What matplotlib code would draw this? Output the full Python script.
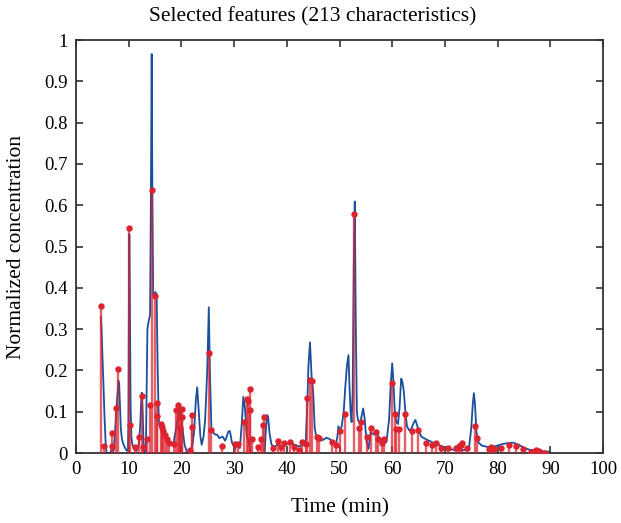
import matplotlib
matplotlib.use("Agg")
import matplotlib.pyplot as plt
from matplotlib.ticker import FuncFormatter

# Chromatogram (blue line): time (min) and normalized concentration
line_t = [4.7, 4.85, 5.0, 5.2, 5.4, 5.6, 5.8, 6.5, 6.7, 6.9, 7.2, 7.35, 7.55, 7.8, 8.05, 8.2, 8.35, 8.5, 8.7, 8.9, 9.2, 9.6, 9.85,
          9.95, 10.05, 10.12, 10.2, 10.35, 10.5, 10.7, 11.0, 11.5, 11.9, 12.2, 12.35, 12.5, 12.65, 12.8, 12.95, 13.25,
          13.4, 13.55, 13.8, 14.05, 14.2, 14.36, 14.5, 14.65, 14.9, 15.05, 15.3, 15.5, 15.7, 16.0, 16.5, 17.0, 17.5,
          18.0, 18.5, 19.0, 19.5, 19.8, 20.2, 20.6, 21.1, 21.6, 22.0, 22.4, 22.75, 23.0, 23.3, 23.6, 23.85, 24.2, 24.5,
          24.9, 25.2, 25.4, 25.7, 26.0, 26.4, 26.8, 27.2, 27.8, 28.3, 28.6, 28.9, 29.2, 29.6, 30.2, 30.6, 31.1, 31.5,
          31.75, 32.05, 32.4, 32.7, 33.0, 33.2, 35.8, 36.0, 36.25, 36.45, 36.7, 37.1, 37.7, 38.4, 39.0, 39.7, 40.6,
          41.5, 42.4, 43.2, 43.6, 43.9, 44.1, 44.4, 44.7, 45.0, 45.3, 45.6, 46.3, 46.9, 47.5, 48.1, 48.7, 49.3, 49.6,
          49.8, 50.1, 50.4, 50.8, 51.1, 51.4, 51.7, 51.9, 52.1, 52.3, 52.5, 52.7, 52.9, 53.1, 53.3, 53.5, 53.9, 54.2,
          54.5, 54.8, 55.1, 55.5, 55.9, 56.5, 57.1, 57.7, 58.3, 58.9, 59.4, 59.7, 60.0, 60.2, 60.5, 60.8, 61.1, 61.4,
          61.7, 61.9, 62.2, 62.5, 62.8, 63.2, 63.6, 64.1, 64.4, 64.9, 65.5, 66.6, 67.8, 69.1, 70.3, 72.0, 74.0, 74.6,
          75.0, 75.3, 75.5, 75.7, 76.0, 76.4, 77.0, 78.0, 79.0, 80.0, 81.0, 82.0, 83.0, 84.0, 85.0, 86.0, 87.0, 88.0,
          89.0, 89.9]
line_v = [0.33, 0.30, 0.24, 0.17, 0.09, 0.03, 0.0, 0.0, 0.008, 0.0, 0.01, 0.04, 0.08, 0.13, 0.175, 0.165, 0.11, 0.06, 0.035, 0.025, 0.015, 0.006, 0.005,
          0.08, 0.40, 0.53, 0.42, 0.12, 0.04, 0.02, 0.01, 0.005, 0.02, 0.07, 0.12, 0.146, 0.10, 0.03, 0.0, 0.0,
          0.15, 0.30, 0.32, 0.335, 0.60, 0.966, 0.60, 0.38, 0.38, 0.39, 0.385, 0.20, 0.08, 0.06, 0.05, 0.04, 0.03,
          0.02, 0.025, 0.06, 0.10, 0.105, 0.06, 0.02, 0.0, 0.0, 0.01, 0.05, 0.13, 0.159, 0.10, 0.04, 0.02, 0.04, 0.08,
          0.20, 0.353, 0.20, 0.056, 0.05, 0.045, 0.044, 0.036, 0.04, 0.03, 0.04, 0.052, 0.053, 0.025, 0.01, 0.025, 0.012, 0.08,
          0.136, 0.11, 0.04, 0.03, 0.012, 0.0, 0.0, 0.05, 0.092, 0.088, 0.05, 0.02, 0.015, 0.022, 0.015, 0.02, 0.025,
          0.02, 0.016, 0.02, 0.03, 0.12, 0.21, 0.268, 0.186, 0.15, 0.06, 0.04, 0.03, 0.032, 0.037, 0.034, 0.028, 0.02, 0.04,
          0.065, 0.052, 0.064, 0.10, 0.16, 0.21, 0.237, 0.16, 0.10, 0.075, 0.15, 0.45, 0.609, 0.30, 0.10, 0.08, 0.07, 0.09,
          0.108, 0.08, 0.03, 0.01, 0.05, 0.045, 0.045, 0.035, 0.03, 0.026, 0.08, 0.16, 0.217, 0.18, 0.10, 0.075, 0.07, 0.11,
          0.18, 0.175, 0.15, 0.10, 0.065, 0.055, 0.058, 0.074, 0.08, 0.06, 0.04, 0.032, 0.025, 0.018, 0.011, 0.007, 0.007, 0.015,
          0.06, 0.12, 0.145, 0.12, 0.05, 0.025, 0.018, 0.015, 0.015, 0.018, 0.022, 0.024, 0.025, 0.02, 0.013, 0.008, 0.007, 0.005,
          0.004, 0.003]

# Selected features (red stems)
stem_t = [4.7, 5.3, 6.8, 6.85, 7.6, 8.05, 10.12, 10.33, 11.15, 12.0, 12.43, 12.7, 13.4, 14.12, 14.36, 15.05, 15.35,
          15.4, 16.05, 16.3, 16.5, 16.85, 17.2, 17.7, 18.5, 18.95, 19.3, 19.55, 19.7, 19.75, 20.1, 20.15, 21.7, 22.0,
          22.05, 25.3, 25.55, 27.77, 30.24, 30.7, 31.8, 32.5, 32.7, 32.95, 33.0, 33.4, 34.6, 35.15, 35.4, 35.65, 37.3,
          38.35, 38.9, 39.55, 40.7, 41.4, 42.4, 42.8, 43.6, 43.85, 44.45, 44.85, 45.7, 46.2, 48.65, 49.3, 50.0, 51.0,
          52.75, 53.7, 54.1, 55.2, 55.9, 56.95, 57.3, 58.05, 58.4, 59.93, 60.62, 60.65, 61.35, 62.4, 63.8, 64.9, 66.4,
          67.6, 68.25, 69.2, 70.5, 72.05, 72.7, 73.0, 73.3, 74.25, 75.8, 76.15, 78.4, 78.7, 79.3, 80.6, 82.2, 83.4,
          84.9, 86.4, 87.2, 87.9, 89.0]
stem_v = [0.355, 0.018, 0.048, 0.018, 0.108, 0.203, 0.546, 0.069, 0.014, 0.039, 0.138, 0.014, 0.034, 0.117, 0.636, 0.38, 0.121,
          0.089, 0.07, 0.064, 0.054, 0.043, 0.035, 0.025, 0.023, 0.103, 0.117, 0.103, 0.087, 0.06, 0.107, 0.088, 0.008, 0.093,
          0.062, 0.243, 0.056, 0.017, 0.023, 0.023, 0.074, 0.132, 0.127, 0.154, 0.104, 0.033, 0.014, 0.034, 0.068, 0.088, 0.013,
          0.029, 0.014, 0.025, 0.027, 0.015, 0.007, 0.027, 0.023, 0.133, 0.178, 0.174, 0.039, 0.036, 0.027, 0.02, 0.054, 0.094,
          0.578, 0.06, 0.074, 0.038, 0.06, 0.052, 0.034, 0.024, 0.033, 0.17, 0.094, 0.058, 0.057, 0.094, 0.053, 0.056, 0.024,
          0.019, 0.025, 0.013, 0.013, 0.013, 0.016, 0.019, 0.024, 0.011, 0.065, 0.036, 0.009, 0.014, 0.009, 0.011, 0.019, 0.018,
          0.01, 0.002, 0.007, 0.004, 0.001]

x_ticks = [0, 10, 20, 30, 40, 50, 60, 70, 80, 90, 100]
y_ticks = [0, 0.1, 0.2, 0.3, 0.4, 0.5, 0.6, 0.7, 0.8, 0.9, 1.0]

plt.rcParams['font.family'] = ['Liberation Serif', 'DejaVu Serif']

fig = plt.figure(figsize=(6.21, 5.23), dpi=100)
ax = fig.add_axes([0.1224, 0.1338, 0.971 - 0.1224, 0.9235 - 0.1338])

blue = '#1a4f9c'
red = '#dc2430'

ax.plot(line_t, line_v, color=blue, lw=1.3, zorder=2)
ax.vlines(stem_t, 0, stem_v, colors=red, lw=1.7, alpha=0.72, zorder=3)
ax.plot(stem_t, stem_v, 'o', color=red, ms=3.6, mec=red, zorder=4)

ax.set_xlim(0, 100)
ax.set_ylim(0, 1)
ax.set_xticks(x_ticks)
ax.set_yticks(y_ticks)
ax.yaxis.set_major_formatter(FuncFormatter(lambda v, p: ('%g' % v)))
ax.tick_params(direction='in', length=5, width=1.2, color='#333333', top=True, right=True,
               labelsize=13.5, pad=6)
for s in ax.spines.values():
    s.set_linewidth(1.3)
    s.set_color('#333333')

ax.set_xlabel('Time (min)', fontsize=15.5)
ax.xaxis.label.set_va('center')
ax.xaxis.set_label_coords(0.5, -0.133)
ax.set_ylabel('Normalized concentration', fontsize=15.5)
ax.yaxis.label.set_va('center')
ax.yaxis.set_label_coords(-0.112, 0.5)
fig.text(0.503, 1 - 17 / 523, 'Selected features (213 characteristics)', fontsize=15.5,
         ha='center', va='center')

fig.savefig('out.png', dpi=100)
